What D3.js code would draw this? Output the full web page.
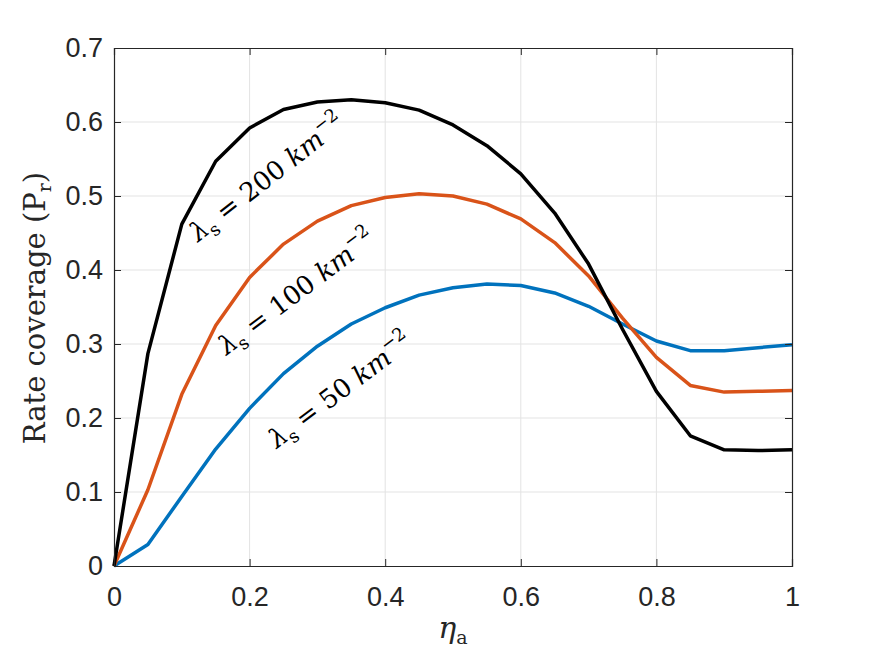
<!DOCTYPE html>
<html>
<head>
<meta charset="utf-8">
<script src="https://cdn.jsdelivr.net/npm/d3@7"></script>
<style>
  body { margin: 0; background: #fff; }
  .tick text { font-family: "Liberation Sans", Arial, sans-serif; }
  .lbl { font-family: "DejaVu Serif", "Liberation Serif", serif; }
</style>
</head>
<body>
<div id="chart"></div>
<script>
// eta_a values
var eta = [0, 0.05, 0.1, 0.15, 0.2, 0.25, 0.3, 0.35, 0.4, 0.45, 0.5,
           0.55, 0.6, 0.65, 0.7, 0.75, 0.8, 0.85, 0.9, 0.95, 1];
var cov200 = [0, 0.287, 0.462, 0.547, 0.592, 0.617, 0.627, 0.630, 0.626, 0.616, 0.596,
              0.568, 0.530, 0.477, 0.408, 0.320, 0.236, 0.176, 0.157, 0.156, 0.157];
var cov100 = [0, 0.103, 0.232, 0.325, 0.390, 0.435, 0.466, 0.487, 0.498, 0.503, 0.500,
              0.489, 0.469, 0.437, 0.392, 0.335, 0.282, 0.244, 0.235, 0.236, 0.237];
var cov50 = [0, 0.029, 0.094, 0.158, 0.213, 0.260, 0.297, 0.327, 0.349, 0.366, 0.376,
             0.381, 0.379, 0.369, 0.351, 0.327, 0.304, 0.291, 0.291, 0.295, 0.299];
var xTicks = [0, 0.2, 0.4, 0.6, 0.8, 1];
var yTicks = [0, 0.1, 0.2, 0.3, 0.4, 0.5, 0.6, 0.7];
var labels = ["200", "100", "50"];

var w = 875, h = 657;
var pLeft = 114, pRight = 792, pTop = 48, pBottom = 566;

var svg = d3.select("#chart").append("svg")
    .attr("width", w)
    .attr("height", h);

var x = d3.scaleLinear().domain([0, 1]).range([pLeft, pRight]);
var y = d3.scaleLinear().domain([0, 0.7]).range([pBottom, pTop]);

//grid
svg.append("g").selectAll("line").data(xTicks.slice(1, -1)).enter().append("line")
    .attr("x1", function(d) { return x(d); }).attr("x2", function(d) { return x(d); })
    .attr("y1", pTop).attr("y2", pBottom)
    .attr("stroke", "#e3e3e3").attr("stroke-width", 1);
svg.append("g").selectAll("line").data(yTicks.slice(1, -1)).enter().append("line")
    .attr("y1", function(d) { return y(d); }).attr("y2", function(d) { return y(d); })
    .attr("x1", pLeft).attr("x2", pRight)
    .attr("stroke", "#e3e3e3").attr("stroke-width", 1);

//series
var series = [
    { vals: cov50, color: "#0072BD" },
    { vals: cov100, color: "#D95319" },
    { vals: cov200, color: "#000000" }
];
var line = d3.line()
    .x(function(d, i) { return x(eta[i]); })
    .y(function(d) { return y(d); });

series.forEach(function(s) {
    svg.append("path")
        .datum(s.vals)
        .attr("d", line)
        .attr("fill", "none")
        .attr("stroke", s.color)
        .attr("stroke-width", 3.5)
        .attr("stroke-linejoin", "round");
});

//axes (ticks inside, mirrored)
var xAxis = d3.axisBottom(x).tickValues(xTicks).tickSize(-7).tickPadding(21)
    .tickFormat(function(d) { return d3.format("")(d); });
var yAxis = d3.axisLeft(y).tickValues(yTicks).tickSize(-7).tickPadding(11)
    .tickFormat(function(d) { return d3.format("")(d); });

var gx = svg.append("g").attr("transform", "translate(0," + pBottom + ")").call(xAxis);
var gy = svg.append("g").attr("transform", "translate(" + pLeft + ",0)").call(yAxis);
svg.append("g").attr("transform", "translate(0," + pTop + ")")
    .call(d3.axisTop(x).tickValues(xTicks).tickSize(-7).tickFormat(""));
svg.append("g").attr("transform", "translate(" + pRight + ",0)")
    .call(d3.axisRight(y).tickValues(yTicks).tickSize(-7).tickFormat(""));

svg.selectAll(".domain").attr("stroke", "#262626").attr("stroke-width", 1.2);
svg.selectAll(".tick line").attr("stroke", "#262626");
[gx, gy].forEach(function(g) {
    g.selectAll("text").attr("font-size", 27).attr("fill", "#262626");
});

//curve labels
var labelPos = [
    { lx: 0.124, ly: 0.437, rot: -38 },
    { lx: 0.166, ly: 0.284, rot: -37 },
    { lx: 0.24, ly: 0.158, rot: -37 }
];
labels.forEach(function(l, i) {
    var p = labelPos[i];
    var t = svg.append("text")
        .attr("class", "lbl")
        .attr("font-size", 26)
        .attr("fill", "#000")
        .attr("transform", "translate(" + x(p.lx) + "," + y(p.ly) + ") rotate(" + p.rot + ")");
    t.append("tspan").attr("font-style", "italic").text("λ");
    t.append("tspan").attr("font-size", 18).attr("dy", 6).text("s");
    t.append("tspan").attr("dy", -6).text(" = " + l + " ");
    t.append("tspan").attr("font-style", "italic").text("km");
    t.append("tspan").attr("font-size", 18).attr("dy", -12).text("−2");
});

//axis labels
var yl = svg.append("text")
    .attr("class", "lbl")
    .attr("font-size", 29)
    .attr("fill", "#262626")
    .attr("text-anchor", "middle")
    .attr("transform", "translate(45,308) rotate(-90)");
yl.append("tspan").text("Rate coverage (P");
yl.append("tspan").attr("font-size", 19).attr("dy", 6).text("r");
yl.append("tspan").attr("dy", -6).text(")");

var xl = svg.append("text")
    .attr("class", "lbl")
    .attr("font-size", 30)
    .attr("fill", "#262626")
    .attr("text-anchor", "middle")
    .attr("x", (pLeft + pRight) / 2)
    .attr("y", 638);
xl.append("tspan").attr("font-style", "italic").text("η");
xl.append("tspan").attr("font-size", 19).attr("dy", 6).text("a");
</script>
</body>
</html>
